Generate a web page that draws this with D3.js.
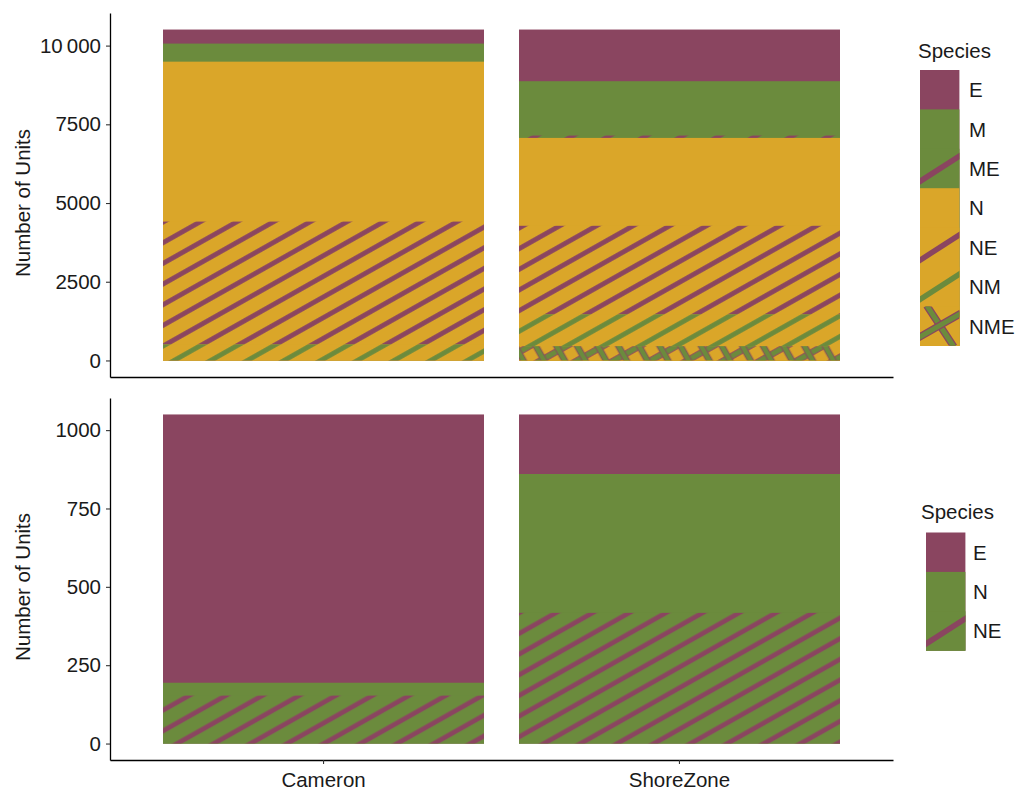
<!DOCTYPE html>
<html>
<head>
<meta charset="utf-8">
<script src="https://cdn.jsdelivr.net/npm/d3@7"></script>
<style>
  html, body { margin: 0; padding: 0; background: #ffffff; }
  svg { display: block; }
  text { font-family: "Liberation Sans", Arial, Helvetica, sans-serif; fill: #1a1a1a; }
</style>
</head>
<body>
<svg id="chart" width="1015" height="791"></svg>
<script>
// ---------------- data ----------------
const categories = ["Cameron", "ShoreZone"];

const speciesTop = ["E", "M", "ME", "N", "NE", "NM", "NME"];
const topCameron = [446, 574, 0, 5079, 3901, 510, 0];
const topShoreZone = [1641, 1726, 75, 2791, 2812, 1010, 455];
const topTickValues = [0, 2500, 5000, 7500, 10000];
const topTickLabels = ["0", "2500", "5000", "7500", "10\u2009000"];

const speciesBottom = ["E", "N", "NE"];
const bottomCameron = [856, 41, 153];
const bottomShoreZone = [190, 443, 417];
const bottomTickValues = [0, 250, 500, 750, 1000];
const bottomTickLabels = ["0", "250", "500", "750", "1000"];

const yAxisTitle = "Number of Units";
const legendTitle = "Species";

// ---------------- style ----------------
const C_E = "#8A4560", C_G = "#6B8B3D", C_Y = "#DAA629";
const FS = 20.5;

const svg = d3.select("#chart");
const defs = svg.append("defs");

const ANG = 29.4, SP = 18, SW = 4.8, TW = 720;
// stripe overlay patterns (transparent background; bg drawn separately)
function stripePattern(id, fg, phase, cross) {
  const p = defs.append("pattern").attr("id", id)
    .attr("patternUnits", "userSpaceOnUse")
    .attr("width", TW).attr("height", SP)
    .attr("patternTransform", `rotate(${-ANG})`);
  if (!cross) {
    p.append("rect").attr("x", 0).attr("y", phase - SW / 2).attr("width", TW).attr("height", SW).attr("fill", fg);
  } else {
    p.append("rect").attr("x", 0).attr("y", phase - SW / 2 - 0.9).attr("width", TW).attr("height", SW + 1.8).attr("fill", C_E);
    p.append("rect").attr("x", 0).attr("y", phase - SW / 2).attr("width", TW).attr("height", SW).attr("fill", fg);
    for (let k = 0; k < TW / SP; k++) {
      const cx = k * SP + 9;
      p.append("rect").attr("y", -1).attr("x", cx - SW / 2 - 0.9).attr("height", SP + 2).attr("width", SW + 1.8).attr("fill", C_E);
      p.append("rect").attr("y", -1).attr("x", cx - SW / 2).attr("height", SP + 2).attr("width", SW).attr("fill", fg);
    }
  }
  return `url(#${id})`;
}

const phaseTop = 3.5, phaseBot = 14.8;
const styleTop = {
  E: { bg: C_E }, M: { bg: C_G }, N: { bg: C_Y },
  ME: { bg: C_G, fg: C_E, pat: stripePattern("t-me", C_E, phaseTop) },
  NE: { bg: C_Y, fg: C_E, pat: stripePattern("t-ne", C_E, phaseTop) },
  NM: { bg: C_Y, fg: C_G, pat: stripePattern("t-nm", C_G, phaseTop) },
  NME: { bg: C_Y, fg: C_G, cross: true, pat: stripePattern("t-nme", C_G, phaseTop, true) }
};
const styleBottom = {
  E: { bg: C_E }, N: { bg: C_G },
  NE: { bg: C_G, fg: C_E, pat: stripePattern("b-ne", C_E, phaseBot) }
};

// ---------------- scales ----------------
const x = d3.scaleBand().domain(categories).range([110, 893])
  .paddingInner(0.1).paddingOuter(0.15);
const bx = c => Math.round(x(c));
const bw = c => Math.round(x(c) + x.bandwidth()) - Math.round(x(c));

function panel(species, valsA, valsB, styles, yRange, tickValues, tickLabels, showX) {
  const rows = categories.map((c, i) => {
    const vals = i === 0 ? valsA : valsB;
    const r = { cat: c };
    species.forEach((s, j) => r[s] = vals[j]);
    return r;
  });
  const maxTot = d3.max(rows, r => d3.sum(species, s => r[s]));
  const y = d3.scaleLinear().domain([-0.05 * maxTot, 1.05 * maxTot]).range(yRange);
  // ggplot stacks first level on top
  const stack = d3.stack().keys(species.slice().reverse());
  const series = stack(rows);
  // draw from the top segment down; each rect reaches the baseline so no seams appear
  series.slice().reverse().forEach(ser => {
    const st = styles[ser.key];
    const g = svg.append("g");
    const data = ser.filter(d => d[1] - d[0] > 0);
    g.selectAll("rect.bg").data(data).join("rect").attr("class", "bg")
      .attr("x", d => bx(d.data.cat))
      .attr("width", d => bw(d.data.cat))
      .attr("y", d => y(d[1]))
      .attr("height", d => y(0) - y(d[1]))
      .attr("fill", st.bg);
    if (st.pat) {
      g.selectAll("rect.pat").data(data).join("rect").attr("class", "pat")
        .attr("x", d => bx(d.data.cat))
        .attr("width", d => bw(d.data.cat))
        .attr("y", d => y(d[1]))
        .attr("height", d => y(0) - y(d[1]))
        .attr("fill", st.pat);
    }
  });

  // y axis
  const ya = svg.append("g").attr("transform", "translate(110,0)")
    .call(d3.axisLeft(y).tickValues(tickValues)
      .tickFormat((d, i) => tickLabels[i]).tickSize(4).tickSizeOuter(0).tickPadding(5));
  ya.select(".domain").attr("stroke", "#000").attr("stroke-width", 1.3);
  ya.selectAll(".tick line").attr("stroke", "#333").attr("stroke-width", 1.1);
  ya.selectAll(".tick text").attr("font-size", FS).attr("fill", "#1a1a1a")
    .attr("font-family", '"Liberation Sans", Arial, sans-serif');

  // x axis
  const xa = svg.append("g").attr("transform", `translate(0,${yRange[0]})`)
    .call(d3.axisBottom(x).tickSize(showX ? 4 : 0).tickSizeOuter(0).tickPadding(8));
  xa.select(".domain").attr("stroke", "#000").attr("stroke-width", 1.3);
  xa.selectAll(".tick line").attr("stroke", "#333").attr("stroke-width", 1.1);
  xa.selectAll(".tick text").attr("font-size", FS).attr("fill", "#1a1a1a")
    .attr("font-family", '"Liberation Sans", Arial, sans-serif')
    .style("display", showX ? null : "none");
  return y;
}

panel(speciesTop, topCameron, topShoreZone, styleTop, [377, 13], topTickValues, topTickLabels, false);
panel(speciesBottom, bottomCameron, bottomShoreZone, styleBottom, [760, 398], bottomTickValues, bottomTickLabels, true);

// y axis titles
[203, 587].forEach(cy => {
  svg.append("text").attr("transform", `translate(30,${cy}) rotate(-90)`)
    .attr("text-anchor", "middle").attr("font-size", FS).text(yAxisTitle);
});

// ---------------- legends ----------------
function legend(species, styles, tx, ty, kx, ky, lx, ks) {
  svg.append("text").attr("x", tx).attr("y", ty).attr("font-size", FS).text(legendTitle);
  species.forEach((s, i) => {
    const y0 = ky + i * ks;
    const st = styles[s];
    svg.append("rect").attr("x", kx).attr("y", y0)
      .attr("width", ks).attr("height", (species.length - i) * ks)
      .attr("fill", st.bg);
  });
  species.forEach((s, i) => {
    const y0 = ky + i * ks;
    const st = styles[s];
    if (st.fg) {
      const cid = "clip-" + tx + "-" + s;
      defs.append("clipPath").attr("id", cid)
        .append("rect").attr("x", kx).attr("y", y0).attr("width", ks).attr("height", ks);
      const lg = svg.append("g").attr("clip-path", `url(#${cid})`);
      if (!st.cross) {
        lg.append("line").attr("x1", kx - 2).attr("y1", y0 + ks * 0.86)
          .attr("x2", kx + ks + 2).attr("y2", y0 + ks * 0.15)
          .attr("stroke", st.fg).attr("stroke-width", 5.5);
      } else {
        const l1 = [kx + ks * 0.17, y0 - 1, kx + ks * 0.86, y0 + ks + 1];
        const l2 = [kx - 2, y0 + ks * 0.8, kx + ks + 2, y0 + ks * 0.17];
        [l1, l2].forEach(l => {
          lg.append("line").attr("x1", l[0]).attr("y1", l[1]).attr("x2", l[2]).attr("y2", l[3])
            .attr("stroke", C_E).attr("stroke-width", 7.5);
          lg.append("line").attr("x1", l[0]).attr("y1", l[1]).attr("x2", l[2]).attr("y2", l[3])
            .attr("stroke", C_G).attr("stroke-width", 5);
        });
      }
    }
    svg.append("text").attr("x", lx).attr("y", y0 + ks / 2 + 7.4)
      .attr("font-size", FS).text(s);
  });
}

legend(speciesTop, styleTop, 918, 58, 920, 70, 969, 39.4);
legend(speciesBottom, styleBottom, 921, 519, 926, 532.5, 973, 39.4);
</script>
</body>
</html>
